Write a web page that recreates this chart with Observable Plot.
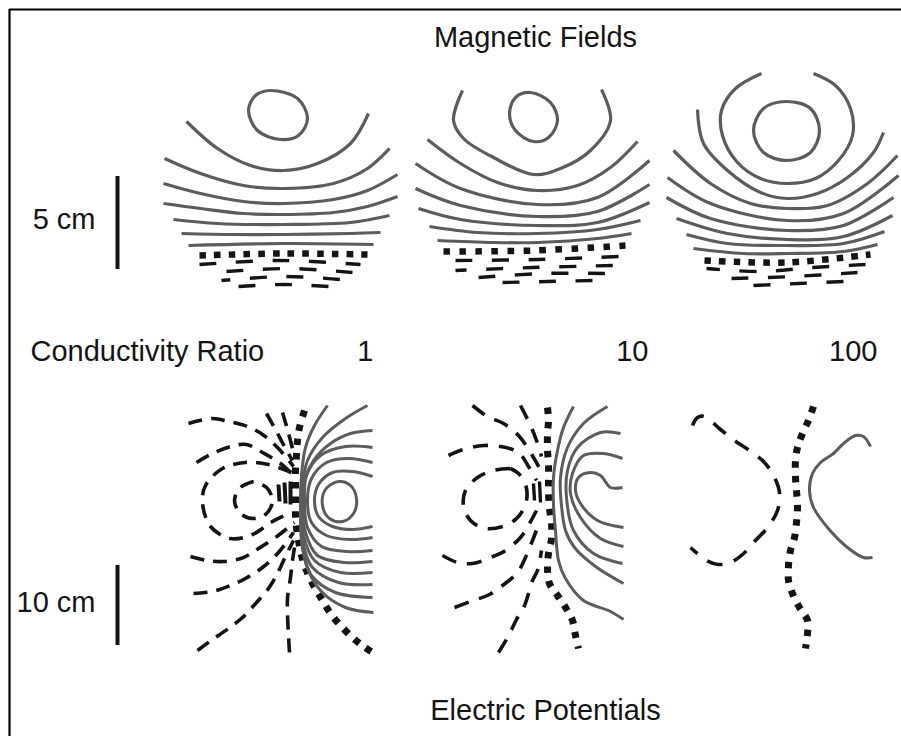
<!DOCTYPE html>
<html><head><meta charset="utf-8">
<script src="https://cdn.jsdelivr.net/npm/d3@7"></script>
<script src="https://cdn.jsdelivr.net/npm/@observablehq/plot@0.6"></script>
<style>html,body{margin:0;padding:0;background:#fff;overflow:hidden;} #chart svg{display:block;}</style>
</head><body><div id="chart"></div>
<script>
// ---------- labels ----------
const titles = ["Magnetic Fields", "Electric Potentials"];
const rowLabel = ["Conductivity Ratio"];
const ratios = ["1", "10", "100"];
const scaleLabels = ["5 cm", "10 cm"];

// ---------- magnetic field panels (picture units) ----------
const magLoops = [
  [[270,90],[297,98],[307,118],[298,135],[280,139],[257,130],[248,110],[255,95]],
  [[530,92],[550,102],[557,120],[548,137],[533,141],[515,130],[509,113],[515,97]],
  [[786,101],[810,108],[819,130],[810,152],[786,160],[763,152],[753,130],[763,108]]
];
const magArcs1 = [
  [[186,121],[217,148],[250,165],[283,170],[317,163],[350,143],[368,113]],
  [[164,158],[200,173],[243,185],[283,188],[333,183],[367,168],[389,148]],
  [[163,183],[200,193],[243,201],[283,203],[333,199],[367,190],[397,174]],
  [[163,203],[200,208],[243,213],[283,214],[333,212],[367,206],[397,196]],
  [[173,219],[217,223],[283,224],[350,222],[389,215]],
  [[181,233],[233,234],[283,234],[350,233],[380,232]],
  [[188,245],[283,243],[373,244]]
];
const magArcs2 = [
  [[462,90],[453,120],[463,138],[493,157],[533,174],[560,168],[590,150],[610,120],[601,89]],
  [[427,139],[460,163],[497,182],[537,190],[577,185],[610,167],[637,141]],
  [[415,163],[460,188],[537,204],[597,197],[649,160]],
  [[415,188],[460,205],[537,216],[597,211],[649,184]],
  [[418,208],[460,219],[537,225],[597,222],[649,202]],
  [[429,226],[477,232],[537,233],[597,229],[640,220]],
  [[437,240],[493,242],[537,242],[597,238],[631,233]]
];
const magArcs3 = [
  [[761,73],[735,88],[721,110],[722,135],[737,162],[760,178],[787,183],[815,178],[838,160],[852,135],[850,108],[835,85],[813,73]],
  [[697,109],[703,143],[727,170],[760,192],[787,198],[817,193],[847,177],[873,152],[883,132]],
  [[673,150],[710,183],[750,203],[787,208],[827,205],[867,183],[897,155]],
  [[667,177],[710,203],[787,220],[843,213],[898,175]],
  [[666,197],[710,218],[787,230],[843,225],[893,197]],
  [[676,218],[727,233],[787,239],[843,236],[892,215]],
  [[686,234],[727,243],[787,245],[843,243],[884,231]],
  [[693,248],[743,253],[787,253],[843,251],[877,244]]
];
const magSquareRows = [
  [[199,255],[283,253],[367,254]],
  [[443,251],[534,250],[625,245]],
  [[704,260],[786,262],[870,254]]
];
const magDashRows = [
  [[199,264],[279,260],[360,264]],
  [[226,271],[289,268],[352,272]],
  [[221,280],[285,276],[340,279]],
  [[238,286],[284,284],[328,286]],
  [[455,260],[537,259],[619,256]],
  [[455,270],[532,267],[613,265]],
  [[478,277],[542,273],[606,273]],
  [[502,282],[547,281],[592,280]],
  [[706,268],[760,271],[812,267],[865,264]],
  [[731,278],[793,276],[857,272]],
  [[753,285],[798,283],[843,281]]
];

// ---------- electric potential panels ----------
const elecBoundaries = [
  [[304,410],[299,427],[297,440],[296,455],[295,470],[295,485],[295,500],[295,515],[296,527],[298,540],[301,555],[306,570],[313,585],[322,600],[330,613],[340,625],[352,637],[363,646],[372,652]],
  [[547,407],[548,420],[547,433],[547,450],[548,463],[548,478],[548,493],[549,508],[551,523],[551,538],[548,553],[547,568],[549,583],[557,595],[565,607],[572,620],[575,635],[578,648]],
  [[813,406],[808,420],[802,433],[797,447],[795,460],[795,477],[796,490],[797,507],[796,522],[794,537],[790,550],[788,565],[788,580],[792,593],[799,607],[807,620],[807,633],[805,648]]
];
const elecSolid1 = [
  [[372,476],[352,471],[332,472],[318,484],[314,500],[318,516],[332,526],[352,529],[372,526]],
  [[372,462],[348,458],[326,462],[311,478],[307,500],[311,522],[326,535],[350,539],[372,537]],
  [[372,447],[345,446],[320,455],[306,475],[304,500],[307,527],[321,546],[347,551],[372,550]],
  [[372,430],[350,433],[330,443],[313,460],[305,477],[302,500],[305,532],[317,555],[344,562],[372,561]],
  [[367,405],[345,418],[322,437],[307,460],[302,485],[301,505],[303,535],[314,560],[340,572],[372,572]],
  [[327,405],[314,425],[305,447],[301,475],[300,505],[302,540],[312,567],[338,582],[372,584]],
  [[300,518],[302,548],[311,575],[335,592],[372,597]],
  [[301,535],[306,565],[320,590],[345,607],[373,612]]
];
const elecSolidLoop1 = [[338,481],[350,485],[356,498],[353,513],[342,521],[329,518],[322,505],[325,489]];
const elecSolid2 = [
  [[573,406],[563,427],[557,450],[553,477],[553,505],[555,530],[558,560],[565,578],[583,600],[610,611],[623,619]],
  [[607,406],[583,423],[567,447],[560,477],[561,505],[565,530],[574,547],[595,566],[623,583]],
  [[620,433],[600,432],[577,447],[567,470],[566,497],[573,530],[593,553],[622,563]],
  [[622,458],[603,453],[583,455],[572,473],[570,493],[580,517],[600,538],[623,546]],
  [[622,487],[610,487],[600,475],[590,472],[578,477],[575,490],[580,503],[597,520],[623,527]]
];
const elecSolid3 = [
  [[870,446],[863,436],[855,435],[843,443],[833,453],[820,462],[812,473],[809,490],[813,507],[827,527],[847,547],[863,557],[872,557]]
];
const elecDashed1 = [
  [[253,481],[240,487],[234,500],[240,513],[253,518],[266,513],[272,500],[266,487],[253,481]],
  [[291,472],[268,464],[245,462],[222,468],[205,485],[202,502],[210,526],[230,538],[252,534],[272,521],[291,512]],
  [[196,462],[212,453],[230,446],[246,444],[262,452],[280,463],[294,476]],
  [[190,556],[207,560],[223,561],[243,557],[258,548],[275,537],[294,522]],
  [[188,423],[212,418],[228,421],[247,426],[262,434],[278,448],[293,466]],
  [[193,593],[212,591],[230,585],[245,578],[262,567],[278,552],[293,532]],
  [[197,650],[212,639],[228,628],[242,617],[256,602],[268,588],[277,573],[284,558],[293,540]],
  [[289,652],[288,635],[287,613],[287,598],[290,577],[292,560],[294,547]],
  [[266,413],[275,429],[284,446],[292,460]],
  [[282,412],[287,429],[292,448]]
];
const elecCore1 = [
  [[278,484],[279,501]], [[284,482],[285,503]], [[290,481],[290,504]]
];
const elecDashed2 = [
  [[510,468],[493,470],[477,477],[465,490],[463,505],[470,520],[485,528],[505,525],[518,516],[526,500],[525,484],[518,473],[510,468]],
  [[448,455],[463,449],[483,445],[500,446],[518,452],[528,466],[536,480]],
  [[442,555],[457,562],[472,563],[490,557],[505,550],[520,537],[529,523],[536,510]],
  [[472,405],[487,416],[503,423],[518,435],[530,452],[537,464],[543,475]],
  [[520,405],[530,425],[536,440],[541,456]],
  [[454,607],[470,601],[489,594],[502,585],[517,572],[525,557],[532,540],[537,527]],
  [[498,652],[507,637],[516,619],[524,605],[532,580],[537,570],[541,550]]
];
const elecCore2 = [
  [[533,483],[534,500]], [[539,481],[540,502]]
];
const elecDashed3 = [
  [[692,425],[697,417],[704,416],[720,429],[734,440],[749,450],[763,461],[773,475],[779,492],[777,510],[767,527],[753,542],[742,554],[730,562],[718,564],[706,560],[690,547]]
];

// ---------- layout (positions / styles kept apart from data) ----------
const titlePos = [[535,46],[545,719]];
const rowLabelPos = [[30,360]];
const ratioPos = [[373,360],[648,360],[877,360]];
const scaleLabelPos = [[95,228],[95,611]];
const scaleBarPos = [[117,176,269],[117,565,645]];
const frameLeft = [[9,9,736]];
const frameTop = [[9,9,901]];
const dashRowOffsets = [0,0,8,0,0,5.7,0,0,3.5,0,0];

const GRAY = "#5c5c5c", INK = "#141414";
const FONT = "'Liberation Sans', Arial, Helvetica, sans-serif";

function table(curves) {
  const out = [];
  curves.forEach((c, i) => c.forEach(([x, y]) => out.push({id: i, x, y})));
  return out;
}
function lines(curves, opts) {
  return Plot.line(table(curves), {x: "x", y: "y", z: "id", curve: "catmull-rom", fill: "none", strokeLinecap: "butt", strokeLinejoin: "round", ...opts});
}
function labels(texts, pos, opts) {
  const d = texts.map((t, i) => ({t, x: pos[i][0], y: pos[i][1]}));
  return Plot.text(d, {x: "x", y: "y", text: "t", fontSize: 29, fontFamily: FONT, fill: INK, lineAnchor: "bottom", ...opts});
}

const marks = [
  Plot.ruleX(frameLeft, {x: d => d[0], y1: d => d[1], y2: d => d[2], stroke: "#000", strokeWidth: 2.2}),
  Plot.ruleY(frameTop, {y: d => d[0], x1: d => d[1], x2: d => d[2], stroke: "#000", strokeWidth: 2.2}),
  // magnetic
  lines(magLoops, {curve: "catmull-rom-closed", stroke: GRAY, strokeWidth: 3.2}),
  lines(magArcs1, {stroke: GRAY, strokeWidth: 3.2}),
  lines(magArcs2, {stroke: GRAY, strokeWidth: 3.2}),
  lines(magArcs3, {stroke: GRAY, strokeWidth: 3.2}),
  lines([magSquareRows[0]], {stroke: INK, strokeWidth: 6.5, strokeDasharray: "6.5,8.2"}),
  lines([magSquareRows[1]], {stroke: INK, strokeWidth: 6.5, strokeDasharray: "6.5,9.5"}),
  lines([magSquareRows[2]], {stroke: INK, strokeWidth: 6.5, strokeDasharray: "6.5,8.2"}),
  ...magDashRows.map((r, i) => lines([r], {stroke: INK, strokeWidth: 3.4, strokeDasharray: "17,19.5", strokeDashoffset: dashRowOffsets[i]})),
  // electric
  ...elecBoundaries.map(b => lines([b], {stroke: INK, strokeWidth: 7, strokeDasharray: "6.5,8"})),
  lines(elecSolid1, {stroke: GRAY, strokeWidth: 3}),
  lines([elecSolidLoop1], {curve: "catmull-rom-closed", stroke: GRAY, strokeWidth: 3}),
  lines(elecSolid2, {stroke: GRAY, strokeWidth: 3}),
  lines(elecSolid3, {stroke: GRAY, strokeWidth: 3}),
  lines(elecDashed1, {stroke: INK, strokeWidth: 3.6, strokeDasharray: "14,9"}),
  lines(elecCore1, {curve: "linear", stroke: INK, strokeWidth: 4}),
  lines(elecDashed2, {stroke: INK, strokeWidth: 3.6, strokeDasharray: "15,11"}),
  lines(elecCore2, {curve: "linear", stroke: INK, strokeWidth: 3.4}),
  lines(elecDashed3, {stroke: INK, strokeWidth: 3.6, strokeDasharray: "16,12"}),
  // scale bars
  Plot.ruleX(scaleBarPos, {x: d => d[0], y1: d => d[1], y2: d => d[2], stroke: INK, strokeWidth: 4}),
  // texts
  labels(titles, titlePos, {textAnchor: "middle"}),
  labels(rowLabel, rowLabelPos, {textAnchor: "start"}),
  labels(ratios, ratioPos, {textAnchor: "end"}),
  labels(scaleLabels, scaleLabelPos, {textAnchor: "end"})
];

const chart = Plot.plot({
  width: 901, height: 736, margin: 0,
  x: {domain: [0, 901], range: [0, 901], axis: null},
  y: {domain: [0, 736], range: [0, 736], axis: null},
  style: {background: "#fff"},
  marks
});
document.getElementById("chart").appendChild(chart);
</script>
</body></html>
